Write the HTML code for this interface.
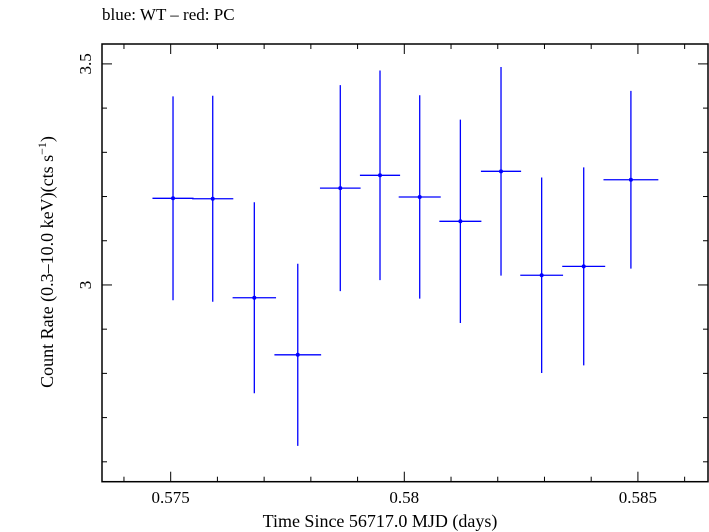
<!DOCTYPE html>
<html><head><meta charset="utf-8"><style>
body{margin:0;background:#fff;}
svg{display:block;font-family:"Liberation Serif",serif;}
</style></head><body>
<svg id="chart" width="709" height="532" viewBox="0 0 709 532">
<rect width="709" height="532" fill="#fff"/>
<text x="102" y="20" font-size="17">blue: WT – red: PC</text>
<g id="axes"></g>
<g id="series"></g>
<text x="380" y="527" font-size="18" text-anchor="middle">Time Since 56717.0 MJD (days)</text>
<text transform="translate(53,262) rotate(-90)" font-size="18" text-anchor="middle">Count Rate (0.3–10.0 keV)(cts s<tspan font-size="12" dy="-7">−1</tspan><tspan dy="7">)</tspan></text>
</svg>
<script>
const times=[0.57505,0.57590,0.57679,0.57772,0.57863,0.57948,0.58033,0.58120,0.58207,0.58294,0.58384,0.58485];
const timeErr=[0.00044,0.00044,0.000465,0.0005,0.000435,0.00043,0.00045,0.00045,0.00043,0.000458,0.00046,0.000587];
const rates=[3.196,3.195,2.971,2.842,3.219,3.248,3.199,3.144,3.257,3.022,3.042,3.238];
const rateErr=[0.2305,0.233,0.216,0.206,0.233,0.237,0.230,0.230,0.236,0.221,0.224,0.201];
const xTickLabels=["0.575","0.58","0.585"];
const yTickLabels=["3","3.5"];

const L=102,R=708,T=44,B=481.7;
const X0=0.57353,X1=0.5865,Y0=2.555,Y1=3.545;
const sx=v=>L+(v-X0)/(X1-X0)*(R-L);
const sy=v=>B-(v-Y0)/(Y1-Y0)*(B-T);
const NS="http://www.w3.org/2000/svg";
function mk(tag,attrs,parent){const e=document.createElementNS(NS,tag);for(const k in attrs)e.setAttribute(k,attrs[k]);parent.appendChild(e);return e;}
const axes=document.getElementById('axes');
const frame=mk('rect',{x:L,y:T,width:R-L,height:B-T,fill:'none',stroke:'#000','stroke-width':1.5},axes);


for(let i=574;i<=586;i++){
  const v=i/1000,x=sx(v),major=(i%5===0),len=major?10:5;
  const t1=mk('line',{x1:x,x2:x,y1:B,y2:B-len,stroke:'#000','stroke-width':1},axes);
  
  
  const t2=mk('line',{x1:x,x2:x,y1:T,y2:T+len,stroke:'#000','stroke-width':1},axes);
  
  
}
xTickLabels.forEach(s=>{
  const t=mk('text',{x:sx(parseFloat(s)),y:503,'font-size':17,'text-anchor':'middle'},axes);
  t.textContent=s;
  
  
});
for(let i=26;i<=35;i++){
  const v=i/10,y=sy(v),major=(i%5===0),len=major?10:5;
  const t1=mk('line',{x1:L,x2:L+len,y1:y,y2:y,stroke:'#000','stroke-width':1},axes);
  
  
  const t2=mk('line',{x1:R,x2:R-len,y1:y,y2:y,stroke:'#000','stroke-width':1},axes);
  
  
}
yTickLabels.forEach(s=>{
  const y=sy(parseFloat(s));
  const t=mk('text',{transform:`translate(91,${y}) rotate(-90)`,'font-size':17,'text-anchor':'middle'},axes);
  t.textContent=s;
  
  
});
const ser=document.getElementById('series');
times.forEach((tv,i)=>{
  const x=sx(tv),y=sy(rates[i]);
  const g=mk('g',{},ser);
  
  
  mk('line',{x1:sx(tv-timeErr[i]),x2:sx(tv+timeErr[i]),y1:y,y2:y,stroke:'#0000ff','stroke-width':1.3},g);
  mk('line',{x1:x,x2:x,y1:sy(rates[i]+rateErr[i]),y2:sy(rates[i]-rateErr[i]),stroke:'#0000ff','stroke-width':1.3},g);
  mk('circle',{cx:x,cy:y,r:2,fill:'#0000ff'},g);
});
</script>
</body></html>
